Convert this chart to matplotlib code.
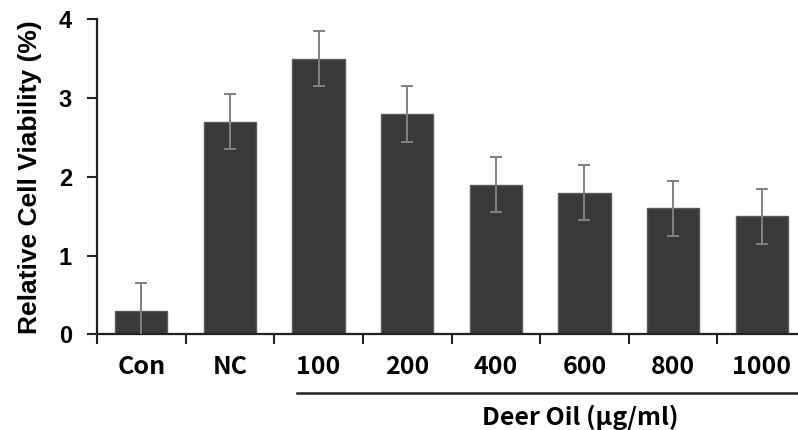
import numpy as np
import matplotlib
matplotlib.use("Agg")
import matplotlib.pyplot as plt

groups = ["Con", "NC", "100", "200", "400", "600", "800", "1000"]
viability = [0.30, 2.70, 3.50, 2.80, 1.90, 1.80, 1.60, 1.50]
errors = [0.35, 0.35, 0.35, 0.35, 0.35, 0.35, 0.35, 0.35]
y_ticks = [0, 1, 2, 3, 4]

fig = plt.figure(figsize=(7.98, 4.30), dpi=100)
ax = fig.add_axes([0.1216, 0.2221, 0.8884, 0.7326])

x = np.arange(len(groups))
ax.bar(x, viability, width=0.59, color="#3a3937", edgecolor="#5c5b59", linewidth=1.0, zorder=2)
ax.errorbar(x, viability, yerr=errors, fmt="none", ecolor="#808080",
            elinewidth=1.4, capsize=4, capthick=1.4, zorder=3)

ax.set_xlim(-0.5, len(groups) - 0.5)
ax.set_ylim(0, 4)
ax.set_yticks(y_ticks)
ax.set_yticklabels([str(t) for t in y_ticks], family="Liberation Sans",
                   fontweight="bold", fontsize=17)

# boundary ticks (major) and centered labels (minor)
ax.set_xticks(np.arange(len(groups) + 1) - 0.5)
ax.set_xticklabels([])
ax.set_xticks(x, minor=True)
ax.set_xticklabels(groups, minor=True, family=["Noto Sans CJK KR", "DejaVu Sans"],
                   fontweight="bold", fontsize=18)
ax.tick_params(axis="x", which="major", direction="out", length=7, width=1.5, color="#222222")
ax.tick_params(axis="x", which="minor", length=0, pad=15)
ax.tick_params(axis="y", direction="out", length=7, width=1.5, pad=11, color="#222222")

for side in ["top", "right"]:
    ax.spines[side].set_visible(False)
for side in ["left", "bottom"]:
    ax.spines[side].set_linewidth(1.6)
    ax.spines[side].set_color("#222222")

ax.set_ylabel("Relative Cell Viability (%)", family="Liberation Sans",
              fontweight="bold", fontsize=19, labelpad=12)

# treatment group bracket
ax.plot([1.76, 7.6], [-0.74, -0.74], color="#222222", linewidth=1.8, clip_on=False)
ax.text(4.95, -1.05, "Deer Oil (\u03bcg/ml)", ha="center", va="center",
        family=["Noto Sans CJK KR", "DejaVu Sans"], fontweight="bold", fontsize=18)

fig.savefig("out.png", dpi=100)
